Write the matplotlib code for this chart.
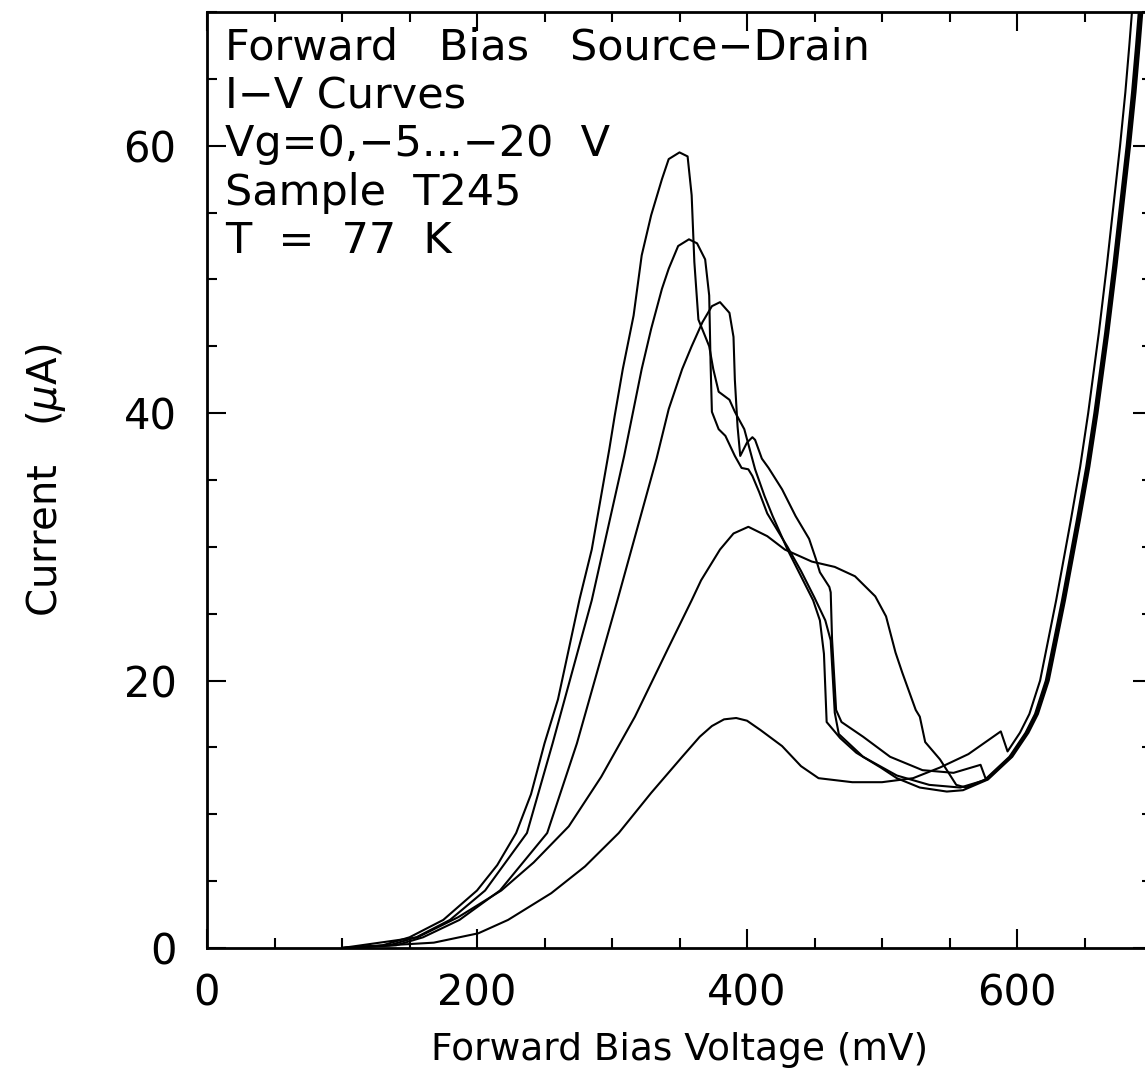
import matplotlib
matplotlib.use("Agg")
import matplotlib.pyplot as plt
import numpy as np

plt.rcParams['font.family'] = ['DejaVu Sans']

# ---- data (mV, uA) ----
rise_x = [577, 595, 607, 614, 622, 634, 645, 652, 658, 666, 672, 677, 682, 686, 689, 691]
rise_y = [12.6, 14.3, 16.1, 17.5, 20.0, 26.0, 32.0, 36.0, 40.0, 46.0, 51.0, 55.5, 60.0, 64.0, 67.5, 70.0]

c1_x = [100, 130, 150, 175, 200, 215, 229, 240, 250, 260, 276, 285, 298, 302, 308, 316, 322, 329,
        337, 342, 350, 356, 359, 361, 364, 372, 375, 379, 383, 387, 391, 398, 406, 413, 419, 430,
        439, 449, 454, 457, 459, 469, 481, 499, 511, 528, 548, 560]
c1_y = [0.0, 0.2, 0.8, 2.1, 4.3, 6.2, 8.6, 11.5, 15.3, 18.6, 26.1, 29.8, 37.3, 39.8, 43.3, 47.3, 51.8, 54.8,
        57.5, 59.0, 59.5, 59.2, 56.3, 51.3, 47.0, 45.0, 43.3, 41.6, 41.3, 41.0, 40.1, 38.8, 35.8, 33.8, 32.3, 29.8,
        28.0, 26.0, 24.5, 22.0, 16.9, 15.7, 14.6, 13.5, 12.7, 12.0, 11.7, 11.8]

c2_x = [100, 135, 155, 180, 206, 237, 256, 285, 309, 322, 329, 337, 342, 349, 357, 363, 369, 372,
        373, 374, 379, 384, 391, 396, 401, 404, 409, 415, 430, 440, 450, 458, 462, 465, 468, 486,
        511, 535, 558]
c2_y = [0.0, 0.2, 0.8, 2.1, 4.3, 8.6, 15.3, 26.0, 36.8, 43.3, 46.3, 49.3, 50.8, 52.5, 53.0, 52.7, 51.5, 48.8,
        43.8, 40.1, 38.8, 38.3, 36.8, 35.9, 35.8, 35.3, 34.1, 32.5, 30.0, 28.2, 26.2, 24.5, 23.0, 17.6, 16.0, 14.3,
        12.9, 12.2, 12.0]

c3_x = [100, 140, 160, 187, 217, 252, 274, 304, 333, 342, 352, 359, 367, 374, 380, 387, 390, 391,
        393, 395, 400, 404, 406, 411, 416, 426, 436, 446, 451, 454, 461, 462, 463, 466, 470, 486,
        506, 530, 553, 573]
c3_y = [0.0, 0.2, 0.8, 2.1, 4.3, 8.6, 15.3, 26.0, 36.6, 40.3, 43.3, 45.0, 46.8, 48.0, 48.3, 47.5, 45.7, 42.5,
        39.0, 36.8, 37.8, 38.2, 38.0, 36.6, 35.9, 34.3, 32.3, 30.6, 29.1, 28.1, 27.0, 26.6, 23.1, 17.8, 16.9, 15.8,
        14.3, 13.3, 13.1, 13.7]

c4_x = [100, 156, 186, 218, 242, 268, 292, 317, 342, 359, 366, 380, 390, 401, 415, 428, 448, 465,
        480, 495, 503, 510, 515, 525, 528, 532, 543, 555, 562]
c4_y = [0.0, 0.8, 2.3, 4.3, 6.4, 9.1, 12.8, 17.3, 22.5, 26.0, 27.5, 29.8, 31.0, 31.5, 30.8, 29.8, 28.9, 28.5,
        27.8, 26.3, 24.8, 22.1, 20.6, 17.8, 17.3, 15.4, 14.1, 12.2, 12.0]

c5_x = [100, 168, 201, 223, 255, 280, 305, 329, 352, 365, 374, 383, 392, 400, 410, 426, 440, 453,
        478, 500, 523, 543, 564, 588, 593]
c5_y = [0.0, 0.4, 1.1, 2.1, 4.1, 6.1, 8.6, 11.6, 14.3, 15.8, 16.6, 17.1, 17.2, 17.0, 16.3, 15.1, 13.6, 12.7,
        12.4, 12.4, 12.7, 13.5, 14.5, 16.2, 14.7]

curves_x = [c1_x, c2_x, c3_x, c4_x, c5_x]
curves_y = [c1_y, c2_y, c3_y, c4_y, c5_y]
rise_shift = [1.4, 0.7, 0.0, -0.6, -4.5]

annotation = ["Forward   Bias   Source\u2212Drain", "I\u2212V Curves", "Vg=0,\u22125...\u221220  V",
              "Sample  T245", "T  =  77  K"]
xticks = [0, 200, 400, 600]
yticks = [0, 20, 40, 60]

fig = plt.figure(figsize=(11.45, 10.82), dpi=100)
ax = fig.add_axes([207/1145, 1-948/1082, (1152-207)/1145, (948-12)/1082])

for xs, ys, sh in zip(curves_x, curves_y, rise_shift):
    keep = [i for i, v in enumerate(rise_x) if v + sh > xs[-1] + 2]
    rx = [rise_x[i] + sh * (1 + 0.3 * rise_y[i] / 70) for i in keep]
    ry = [rise_y[i] for i in keep]
    ax.plot(list(xs) + rx, list(ys) + ry, color='black', lw=1.5,
            solid_joinstyle='round', solid_capstyle='round')

ax.set_xlim(0, 700)
ax.set_ylim(0, 70)
ax.set_xticks(xticks)
ax.set_yticks(yticks)
ax.set_xticks(np.arange(0, 701, 50), minor=True)
ax.set_yticks(np.arange(0, 71, 5), minor=True)
ax.tick_params(which='both', direction='in', top=True, right=True, width=1.5, colors='black')
ax.tick_params(which='major', length=14, labelsize=30)
ax.tick_params(axis='x', which='major', pad=18)
ax.tick_params(axis='y', which='major', pad=22)
ax.tick_params(which='minor', length=7)
for s in ax.spines.values():
    s.set_linewidth(2)

ax.set_xlabel("Forward Bias Voltage (mV)", fontsize=27, labelpad=12)
ax.set_ylabel("Current   ($\\mu$A)", fontsize=29, labelpad=40)

for i, t in enumerate(annotation):
    ax.text(0.019, 0.984 - i * 0.0515, t, transform=ax.transAxes, fontsize=31,
            va='top', ha='left')

fig.savefig("out.png", dpi=100)
